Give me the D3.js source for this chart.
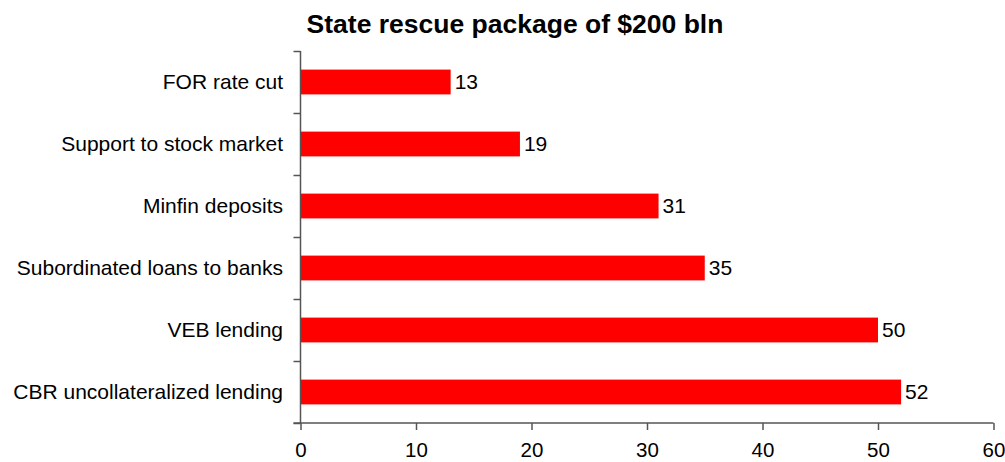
<!DOCTYPE html>
<html><head><meta charset="utf-8">
<script src="https://cdn.jsdelivr.net/npm/d3@7"></script>
<style>body{margin:0;background:#fff;} svg{display:block;font-family:"Liberation Sans",Arial,sans-serif;}</style>
</head><body>
<svg id="c" width="1005" height="462"></svg>
<script>
const categories = ["FOR rate cut","Support to stock market","Minfin deposits","Subordinated loans to banks","VEB lending","CBR uncollateralized lending"];
const values = [13,19,31,35,50,52];
const xTicks = [0,10,20,30,40,50,60];
const title = "State rescue package of $200 bln";

const svg = d3.select("#c");
const m = {left:300.5, right:993.5, top:51, bottom:423};
const x = d3.scaleLinear().domain([0,60]).range([m.left, m.right]);
const y = d3.scaleBand().domain(categories).range([m.top, m.bottom]).paddingInner(0.6).paddingOuter(0.3);
const yb = d3.scaleLinear().domain([0,categories.length]).range([m.top,m.bottom]);

svg.append("text").attr("x",515).attr("y",33).attr("text-anchor","middle")
  .attr("font-weight","bold").attr("font-size",26.5).attr("fill","#000").text(title);

// bars
svg.selectAll("rect.bar").data(values).join("rect").attr("class","bar")
  .attr("x",x(0)).attr("y",(d,i)=>y(categories[i]))
  .attr("width",d=>x(d)-x(0)).attr("height",y.bandwidth()).attr("fill","#ff0000");

// value labels
svg.selectAll("text.val").data(values).join("text").attr("class","val")
  .attr("x",d=>x(d)+4).attr("y",(d,i)=>y(categories[i])+y.bandwidth()/2)
  .attr("dy","0.33em").attr("font-size",21).attr("fill","#000").text(d=>d);

// y axis line + boundary ticks
const axisColor = "#555";
svg.append("line").attr("x1",m.left).attr("x2",m.left).attr("y1",m.top).attr("y2",m.bottom)
  .attr("stroke",axisColor).attr("stroke-width",1.5);
svg.selectAll("line.ytick").data(d3.range(categories.length+1)).join("line").attr("class","ytick")
  .attr("x1",m.left-7).attr("x2",m.left).attr("y1",d=>Math.round(yb(d))+0.5).attr("y2",d=>Math.round(yb(d))+0.5)
  .attr("stroke",axisColor).attr("stroke-width",1.5);
svg.selectAll("text.cat").data(categories).join("text").attr("class","cat")
  .attr("x",283).attr("y",d=>y(d)+y.bandwidth()/2).attr("dy","0.33em")
  .attr("text-anchor","end").attr("font-size",21).attr("fill","#000").text(d=>d);

// x axis
const xa = svg.append("g").attr("transform",`translate(0,${m.bottom})`)
  .call(d3.axisBottom(x).tickValues(xTicks).tickSize(7).tickFormat(d3.format("d")));
xa.select(".domain").remove();
xa.selectAll(".tick line").attr("stroke",axisColor).attr("stroke-width",1.5);
xa.selectAll(".tick text").attr("font-size",20.5).attr("fill","#000")
  .attr("font-family","Liberation Sans, Arial, sans-serif").attr("y",33.5).attr("dy",null);
svg.append("line").attr("x1",m.left-7).attr("x2",m.right).attr("y1",m.bottom).attr("y2",m.bottom)
  .attr("stroke",axisColor).attr("stroke-width",1.5);
</script>
</body></html>
